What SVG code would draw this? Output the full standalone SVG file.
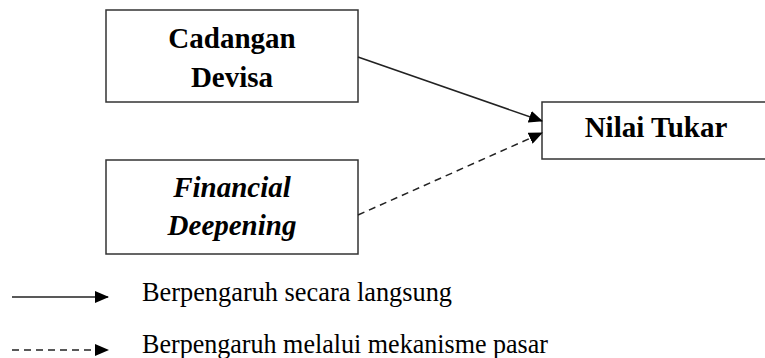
<svg xmlns="http://www.w3.org/2000/svg" width="765" height="358" viewBox="0 0 765 358">
<defs>
<style>
.box{fill:#fff;stroke:#333;stroke-width:1.5}
.t{font-family:"Liberation Serif","Times New Roman",serif;font-weight:bold;font-size:29px;fill:#000;text-anchor:middle}
.i{font-style:italic}
.leg{font-family:"Liberation Serif","Times New Roman",serif;font-size:26.4px;fill:#000}
.c{stroke:#222;stroke-width:1.5;fill:none}
.d{stroke-dasharray:7,5}
</style>
<marker id="ah" markerWidth="14" markerHeight="12" refX="13" refY="6" orient="auto" markerUnits="userSpaceOnUse">
<path d="M0,0 L14,6 L0,12 Z" fill="#000"/>
</marker>
</defs>
<rect width="765" height="358" fill="#fff"/>
<g id="cadangan">
<rect class="box" x="106" y="10" width="252" height="92"/>
<text class="t" x="232" y="48">Cadangan</text>
<text class="t" x="232" y="87">Devisa</text>
</g>
<g id="financial">
<rect class="box" x="106" y="160" width="252" height="94"/>
<text class="t i" x="232" y="197">Financial</text>
<text class="t i" x="232" y="235">Deepening</text>
</g>
<g id="nilai">
<rect class="box" x="542" y="102" width="230" height="57"/>
<text class="t" x="656" y="137">Nilai Tukar</text>
</g>
<g id="connectors">
<line class="c" x1="358" y1="57" x2="542" y2="121" marker-end="url(#ah)"/>
<line class="c d" x1="358" y1="215" x2="542" y2="133" marker-end="url(#ah)"/>
</g>
<g id="legend">
<line class="c" x1="12" y1="297" x2="108" y2="297" marker-end="url(#ah)"/>
<line class="c d" x1="12" y1="350" x2="108" y2="350" stroke-dasharray="5,4" marker-end="url(#ah)"/>
<text class="leg" x="142" y="301" textLength="310" lengthAdjust="spacingAndGlyphs">Berpengaruh secara langsung</text>
<text class="leg" x="142" y="353" textLength="406" lengthAdjust="spacingAndGlyphs">Berpengaruh melalui mekanisme pasar</text>
</g>
</svg>
